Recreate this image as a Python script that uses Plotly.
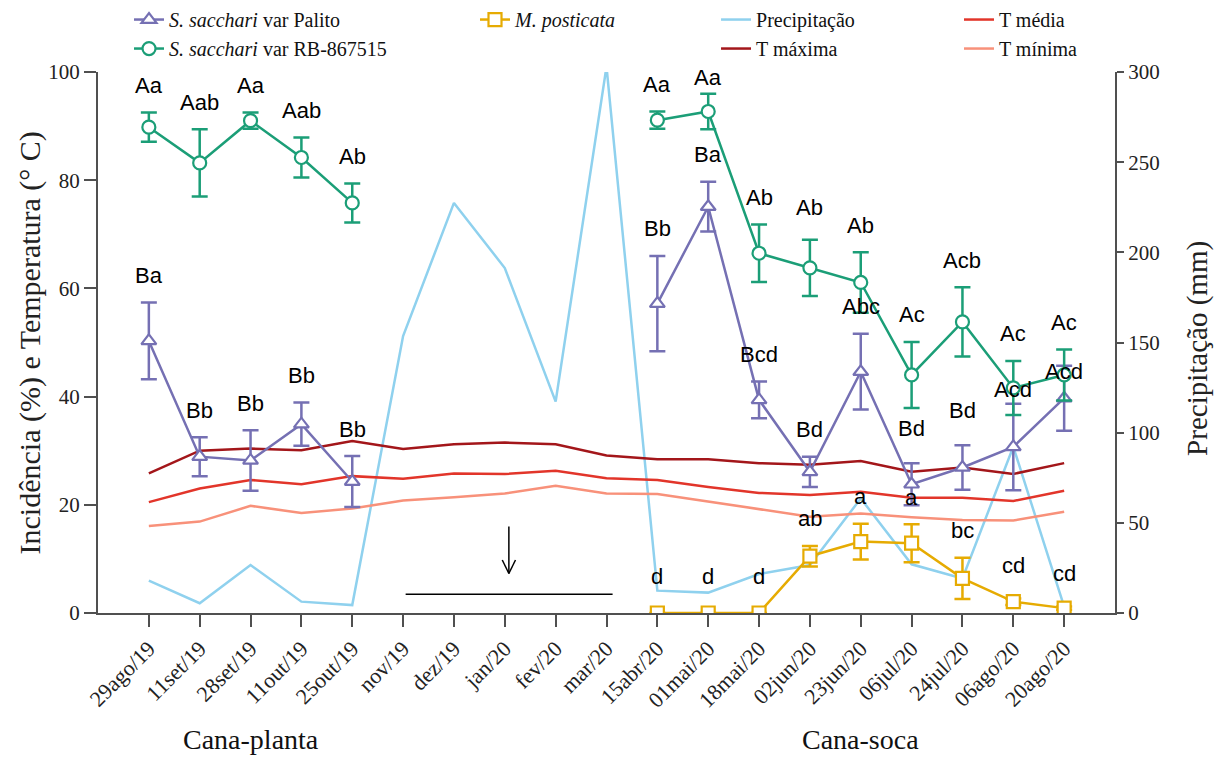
import plotly.graph_objects as go

# ---------------- data ----------------
dates = ["29ago/19", "11set/19", "28set/19", "11out/19", "25out/19", "nov/19",
         "dez/19", "jan/20", "fev/20", "mar/20", "15abr/20", "01mai/20",
         "18mai/20", "02jun/20", "23jun/20", "06jul/20", "24jul/20",
         "06ago/20", "20ago/20"]

palito = [50.3, 28.9, 28.2, 34.9, 24.3, None, None, None, None, None,
          57.2, 75.1, 39.4, 26.1, 44.6, 23.8, 26.9, 30.7, 39.7]
palito_err = [7.1, 3.6, 5.6, 4.0, 4.7, None, None, None, None, None,
              8.8, 4.6, 3.4, 2.8, 7.0, 3.9, 4.1, 8.0, 6.0]
palito_letters = ["Ba", "Bb", "Bb", "Bb", "Bb", "", "", "", "", "",
                  "Bb", "Ba", "Bcd", "Bd", "Abc", "Bd", "Bd", "Acd", "Acd"]

rb = [89.8, 83.2, 91.0, 84.2, 75.8, None, None, None, None, None,
      91.1, 92.7, 66.5, 63.8, 61.1, 44.0, 53.8, 41.6, 44.0]
rb_err = [2.7, 6.2, 1.5, 3.7, 3.6, None, None, None, None, None,
          1.6, 3.3, 5.3, 5.2, 5.6, 6.1, 6.4, 5.0, 4.7]
rb_letters = ["Aa", "Aab", "Aa", "Aab", "Ab", "", "", "", "", "",
              "Aa", "Aa", "Ab", "Ab", "Ab", "Ac", "Acb", "Ac", "Ac"]

posticata = [None, None, None, None, None, None, None, None, None, None,
             0.0, 0.0, 0.0, 10.5, 13.2, 12.9, 6.4, 2.1, 0.9]
posticata_err = [None, None, None, None, None, None, None, None, None, None,
                 None, None, None, 1.9, 3.3, 3.5, 3.8, 0.6, 0.3]
posticata_letters = ["", "", "", "", "", "", "", "", "", "",
                     "d", "d", "d", "ab", "a", "a", "bc", "cd", "cd"]

precipitacao = [17.9, 5.4, 26.6, 6.3, 4.4, 153.6, 227.4, 191.3, 117.2, 303.0,
                12.4, 11.3, 21.6, 26.6, 63.5, 27.0, 19.2, 92.2, 3.5]
t_maxima = [25.8, 30.0, 30.4, 30.1, 31.8, 30.3, 31.2, 31.5, 31.2, 29.1,
            28.4, 28.4, 27.7, 27.4, 28.1, 26.1, 26.9, 25.7, 27.7]
t_media = [20.5, 23.0, 24.6, 23.8, 25.3, 24.8, 25.8, 25.7, 26.3, 24.9,
           24.6, 23.3, 22.2, 21.8, 22.4, 21.3, 21.3, 20.7, 22.6]
t_minima = [16.1, 16.9, 19.8, 18.5, 19.3, 20.8, 21.4, 22.1, 23.5, 22.1,
            22.0, 20.6, 19.3, 17.8, 18.4, 17.7, 17.2, 17.1, 18.7]

# ---------------- styles ----------------
C_PALITO = "#7570b3"
C_RB = "#1b9e77"
C_POST = "#e6ab02"
C_PREC = "#8fd1ee"
C_TMAX = "#a3161a"
C_TMED = "#e2352a"
C_TMIN = "#f8917a"
AXIS_C = "#505050"
TEXT_C = "#222222"
SERIF = "Liberation Serif, Times New Roman, serif"
SANS = "Liberation Sans, Arial, sans-serif"

fig = go.Figure()

# precipitation on the right-hand axis (drawn underneath)
fig.add_trace(go.Scatter(
    x=dates, y=precipitacao, name="Precipitação", mode="lines",
    line=dict(color=C_PREC, width=2.5), yaxis="y", legend="legend3"))

# temperatures on the left-hand axis
for name, vals, col, leg in [("T máxima", t_maxima, C_TMAX, "legend3"),
                             ("T média", t_media, C_TMED, "legend4"),
                             ("T mínima", t_minima, C_TMIN, "legend4")]:
    fig.add_trace(go.Scatter(
        x=dates, y=vals, name=name, mode="lines",
        line=dict(color=col, width=2.5), yaxis="y2", legend=leg))


def incid_trace(name, vals, err, col, symbol, leg):
    return go.Scatter(
        x=dates, y=vals, name=name, mode="lines+markers",
        line=dict(color=col, width=2.5),
        marker=dict(symbol=symbol, size=13, color="white",
                    line=dict(color=col, width=2.2)),
        error_y=dict(type="data", array=err, visible=True, color=col,
                     thickness=2.5, width=8),
        yaxis="y2", legend=leg)


fig.add_trace(incid_trace("<i>S. sacchari</i> var Palito", palito, palito_err,
                          C_PALITO, "triangle-up", "legend"))
fig.add_trace(incid_trace("<i>S. sacchari</i> var RB-867515", rb, rb_err,
                          C_RB, "circle", "legend"))
fig.add_trace(incid_trace("<i>M. posticata</i>", posticata, posticata_err,
                          C_POST, "square", "legend2"))

# ---------------- letters above the error bars ----------------
LETTER_SHIFT = 27  # px above the top of the error bar
letter_nudge = {("palito", 15): 35, ("palito", 16): 35,
                ("palito", 17): 14, ("palito", 18): -6,
                ("rb", 11): 16, ("rb", 13): 32,
                ("post", 10): 37, ("post", 11): 37, ("post", 12): 37,
                ("post", 17): 33, ("post", 18): 33}

annotations = []
for key, vals, err, letters in [("rb", rb, rb_err, rb_letters),
                                ("palito", palito, palito_err, palito_letters),
                                ("post", posticata, posticata_err, posticata_letters)]:
    for i, (v, e, t) in enumerate(zip(vals, err, letters)):
        if v is None or not t:
            continue
        top = v + (e or 0)
        annotations.append(dict(
            x=dates[i], y=top, xref="x", yref="y2", text=t, showarrow=False,
            yanchor="middle", yshift=letter_nudge.get((key, i), LETTER_SHIFT),
            font=dict(family=SANS, size=22, color="black")))

# phase labels under the axis
for txt, cat in [("Cana-planta", "28set/19"), ("Cana-soca", "23jun/20")]:
    annotations.append(dict(
        x=cat, xref="x", y=-0.233, yref="paper", text=txt, showarrow=False,
        font=dict(family=SERIF, size=28, color="#111"), yanchor="middle"))

# axis titles
annotations.append(dict(
    x=-0.0669, y=0.5, xref="paper", yref="paper", textangle=-90,
    text="Incidência (%) e Temperatura (° C)", showarrow=False,
    xanchor="center", yanchor="middle",
    font=dict(family=SERIF, size=30, color=TEXT_C)))
annotations.append(dict(
    x=1.0816, y=0.49, xref="paper", yref="paper", textangle=-90,
    text="Precipitação (mm)", showarrow=False,
    xanchor="center", yanchor="middle",
    font=dict(family=SERIF, size=29, color=TEXT_C)))

# interval marker (horizontal bar and down arrow)
BAR_X0, BAR_X1, BAR_Y = 5.05, 9.12, 3.45
ARROW_X, ARROW_TOP, ARROW_BOT = 7.08, 16.0, 7.3
ARROW_DX, ARROW_DY = 0.13, 2.5
line_style = dict(color="black", width=1.5)
shapes = [
    dict(type="line", xref="x", yref="y2", x0=BAR_X0, x1=BAR_X1, y0=BAR_Y, y1=BAR_Y,
         line=line_style),
    dict(type="line", xref="x", yref="y2", x0=ARROW_X, x1=ARROW_X,
         y0=ARROW_TOP, y1=ARROW_BOT, line=line_style),
    dict(type="line", xref="x", yref="y2", x0=ARROW_X - ARROW_DX, x1=ARROW_X,
         y0=ARROW_BOT + ARROW_DY, y1=ARROW_BOT, line=line_style),
    dict(type="line", xref="x", yref="y2", x0=ARROW_X + ARROW_DX, x1=ARROW_X,
         y0=ARROW_BOT + ARROW_DY, y1=ARROW_BOT, line=line_style),
]

legend_common = dict(orientation="v", yanchor="top", xanchor="left",
                     bgcolor="rgba(0,0,0,0)", tracegroupgap=0,
                     font=dict(family=SERIF, size=20, color="#111"),
                     traceorder="normal")
LEGEND_Y = 1.133

fig.update_layout(
    width=1216, height=760,
    margin=dict(l=98, r=101, t=72, b=147, autoexpand=False),
    paper_bgcolor="white", plot_bgcolor="white",
    showlegend=True,
    legend=dict(x=0.0305, y=LEGEND_Y, **legend_common),
    legend2=dict(x=0.3707, y=LEGEND_Y, **legend_common),
    legend3=dict(x=0.6077, y=LEGEND_Y, **legend_common),
    legend4=dict(x=0.8466, y=LEGEND_Y, **legend_common),
    xaxis=dict(type="category", range=[-1, 19], tickangle=-45,
               showline=True, linecolor=AXIS_C, linewidth=2,
               ticks="outside", ticklen=12, tickwidth=1.5, tickcolor=AXIS_C,
               showgrid=False, zeroline=False,
               tickfont=dict(family=SERIF, size=22, color=TEXT_C)),
    yaxis=dict(side="right", range=[0, 300], tickvals=[0, 50, 100, 150, 200, 250, 300],
               showline=True, linecolor=AXIS_C, linewidth=2,
               ticks="outside", ticklen=7, tickwidth=1.5, tickcolor=AXIS_C,
               showgrid=False, zeroline=False,
               tickfont=dict(family=SERIF, size=21, color=TEXT_C)),
    yaxis2=dict(side="left", overlaying="y", range=[0, 100],
                tickvals=[0, 20, 40, 60, 80, 100],
                showline=True, linecolor=AXIS_C, linewidth=2,
                ticks="outside", ticklen=12, tickwidth=1.5, tickcolor=AXIS_C,
                showgrid=False, zeroline=False,
                tickfont=dict(family=SERIF, size=21, color=TEXT_C)),
    annotations=annotations,
    shapes=shapes,
)

fig.write_html("out.html")
